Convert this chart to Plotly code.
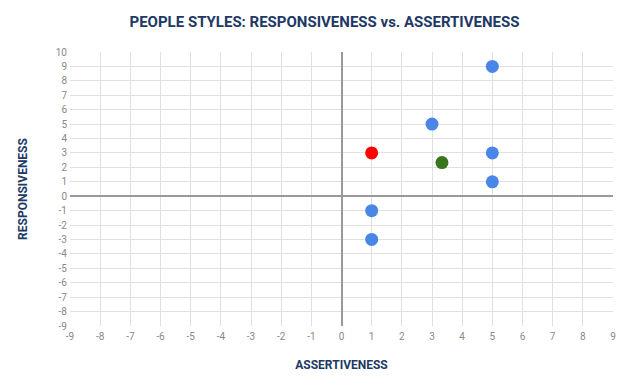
import plotly.graph_objects as go

blue_x = [5, 3, 5, 5, 1, 1]
blue_y = [9, 5, 3, 1, -1, -3]
red_x = [1]
red_y = [3]
green_x = [3.33]
green_y = [2.33]

x_ticks = list(range(-9, 10))
y_ticks = list(range(-9, 11))

fig = go.Figure()
fig.add_trace(go.Scatter(x=blue_x, y=blue_y, mode="markers",
                         marker=dict(color="#4a86e8", size=13), showlegend=False))
fig.add_trace(go.Scatter(x=red_x, y=red_y, mode="markers",
                         marker=dict(color="#ff0000", size=13), showlegend=False))
fig.add_trace(go.Scatter(x=green_x, y=green_y, mode="markers",
                         marker=dict(color="#38761d", size=13), showlegend=False))

axis_common = dict(
    showgrid=True, gridcolor="#e0e0e0", gridwidth=1,
    zeroline=True, zerolinecolor="#999999", zerolinewidth=2,
    tickfont=dict(family="Roboto", size=10, color="#888888"),
    showline=False, ticks="", automargin=False,
)

fig.update_layout(
    width=633, height=390,
    paper_bgcolor="white", plot_bgcolor="white",
    margin=dict(l=62, r=28, t=44, b=72),
    title=dict(text="<b>PEOPLE STYLES: RESPONSIVENESS vs. ASSERTIVENESS</b>",
               x=0.5, xanchor="center", y=0.964, yanchor="middle",
               font=dict(family="Roboto", size=15, color="#203864")),
    xaxis=dict(range=[-9, 9], tickvals=x_ticks, ticktext=[str(v) for v in x_ticks],
               ticklabelstandoff=3,
               title=dict(text="<b>ASSERTIVENESS</b>", standoff=19,
                          font=dict(family="Roboto", size=12, color="#203864")),
               **axis_common),
    yaxis=dict(range=[-9, 10], tickvals=y_ticks, ticktext=[str(v) for v in y_ticks],
               ticklabelstandoff=2,
               title=dict(text="<b>RESPONSIVENESS</b>", standoff=25,
                          font=dict(family="Roboto", size=12, color="#203864")),
               **axis_common),
)
fig.write_html("out.html")
